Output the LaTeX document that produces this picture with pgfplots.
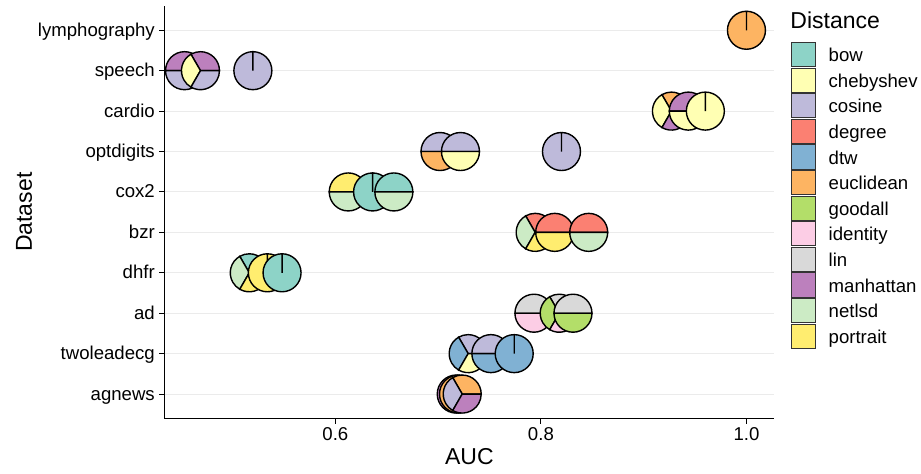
\documentclass[border=0pt]{standalone}
\usepackage{fontspec}
\setmainfont{Liberation Sans}
\usepackage{pgfplots}
\usepackage{pgfplotstable}
\pgfplotsset{compat=1.18}
\definecolor{pc0}{HTML}{8DD3C7}
\definecolor{pc1}{HTML}{FFFFB3}
\definecolor{pc2}{HTML}{BEBADA}
\definecolor{pc3}{HTML}{FB8072}
\definecolor{pc4}{HTML}{80B1D3}
\definecolor{pc5}{HTML}{FDB462}
\definecolor{pc6}{HTML}{B3DE69}
\definecolor{pc7}{HTML}{FCCDE5}
\definecolor{pc8}{HTML}{D9D9D9}
\definecolor{pc9}{HTML}{BC80BD}
\definecolor{pc10}{HTML}{CCEBC5}
\definecolor{pc11}{HTML}{FFED6F}
\newcommand\pierad{9.5pt}
\pgfdeclareplotmark{pie}{%
  \pgfpathmoveto{\pgfpointorigin}%
  \pgfpathlineto{\pgfpointpolar{\wa}{\pierad}}%
  \pgfpatharc{\wa}{\wb}{\pierad}%
  \pgfpathclose
  \pgfusepathqfillstroke
}
% x = AUC, y = dataset row, a/b = wedge angles, c = distance index
\pgfplotstableread{
x y a b c
1.0000 10 90 450 5
0.4532 9 0 180 9
0.4532 9 180 360 2
0.4687 9 0 120 9
0.4687 9 120 240 1
0.4687 9 240 360 2
0.5197 9 90 450 2
0.9270 8 0 120 5
0.9270 8 120 240 1
0.9270 8 240 360 9
0.9434 8 0 180 9
0.9434 8 180 360 1
0.9600 8 90 450 1
0.7018 7 0 180 2
0.7018 7 180 360 5
0.7217 7 0 180 2
0.7217 7 180 360 1
0.8200 7 90 450 2
0.6125 6 0 180 11
0.6125 6 180 360 10
0.6362 6 90 450 0
0.6569 6 0 180 0
0.6569 6 180 360 10
0.7944 5 0 120 3
0.7944 5 120 240 10
0.7944 5 240 360 11
0.8134 5 0 180 3
0.8134 5 180 360 11
0.8465 5 0 180 3
0.8465 5 180 360 10
0.5162 4 0 120 0
0.5162 4 120 240 10
0.5162 4 240 360 11
0.5338 4 90 450 11
0.5481 4 90 450 0
0.7932 3 0 180 8
0.7932 3 180 360 7
0.8178 3 0 120 8
0.8178 3 120 240 6
0.8178 3 240 360 7
0.8312 3 0 180 8
0.8312 3 180 360 6
0.7292 2 0 120 2
0.7292 2 120 240 4
0.7292 2 240 360 1
0.7513 2 0 180 2
0.7513 2 180 360 4
0.7740 2 90 450 4
0.7176 1 90 450 9
0.7198 1 90 450 5
0.7234 1 0 120 5
0.7234 1 120 240 2
0.7234 1 240 360 9
}\piedata
\newcommand\legbox[1]{\addlegendimage{legend image code/.code={\draw[fill=#1, draw=black!80, line width=0.5pt] (0pt,-6.07pt) rectangle (12pt,6.07pt);}}}
\begin{document}
\begin{tikzpicture}
\useasboundingbox (-82.35pt,-27.35pt) rectangle (378.15pt,209.15pt);
\begin{axis}[
  at={(0,0)}, anchor=south west,
  scale only axis, width=304.65pt, height=206.15pt,
  xmin=0.4339, xmax=1.0268, ymin=0.4, ymax=10.6,
  axis x line*=bottom, axis y line*=left,
  axis line style={black, line width=0.55pt},
  xtick={0.6,0.8,1.0}, xticklabels={0.6,0.8,1.0},
  ytick={1,2,3,4,5,6,7,8,9,10},
  yticklabels={agnews,twoleadecg,ad,dhfr,bzr,cox2,optdigits,cardio,speech,lymphography},
  tick align=outside, major tick length=2.75pt,
  tick style={black, line width=0.55pt},
  ymajorgrids, major grid style={color=black!8, line width=0.55pt},
  tick label style={font=\fontsize{9.3}{11}\selectfont, text=black},
  xticklabel style={anchor=base, inner sep=0pt, yshift=-8.25pt},
  yticklabel style={anchor=base east, inner sep=0pt, xshift=-2pt, yshift=-3pt},
  label style={font=\fontsize{11.5}{13}\selectfont},
  xlabel={AUC}, ylabel={Dataset},
  xlabel style={at={(axis description cs:0.5,-0.0919)}, anchor=center},
  ylabel style={at={(axis description cs:-0.2309,0.5)}, anchor=center},
  clip=false,
  legend cell align=left,
  legend style={at={(axis description cs:1.0279,0.91305)}, anchor=north west,
    draw=none, fill=none, inner sep=0pt, outer sep=0pt, row sep=0pt, column sep=6.35pt,
    nodes={inner sep=0pt, outer sep=0pt, text height=9.9pt, text depth=2.9pt,
      font=\fontsize{9.3}{11}\selectfont}},
]
\addplot[forget plot, scatter, only marks, mark=pie, color=black,
  mark options={solid, line width=0.7pt},
  point meta=\thisrow{y},
  visualization depends on={\thisrow{a} \as \wa},
  visualization depends on={\thisrow{b} \as \wb},
  visualization depends on={\thisrow{c} \as \wc},
  scatter/@pre marker code/.code={\pgfmathtruncatemacro\wci{\wc}\pgfscope\pgfsetfillcolor{pc\wci}\pgfsetstrokecolor{black}},
  scatter/@post marker code/.code={\endpgfscope},
] table[x=x, y=y] {\piedata};
\draw[black, line width=0.55pt] (rel axis cs:0,1) -- (rel axis cs:0,0) -- (rel axis cs:1,0);
\legbox{pc0}\addlegendentry{bow}
\legbox{pc1}\addlegendentry{chebyshev}
\legbox{pc2}\addlegendentry{cosine}
\legbox{pc3}\addlegendentry{degree}
\legbox{pc4}\addlegendentry{dtw}
\legbox{pc5}\addlegendentry{euclidean}
\legbox{pc6}\addlegendentry{goodall}
\legbox{pc7}\addlegendentry{identity}
\legbox{pc8}\addlegendentry{lin}
\legbox{pc9}\addlegendentry{manhattan}
\legbox{pc10}\addlegendentry{netlsd}
\legbox{pc11}\addlegendentry{portrait}
\node[anchor=base west, inner sep=0pt, font=\fontsize{11.5}{13}\selectfont] at (axis description cs:1.02626,0.94591) {Distance};
\end{axis}
\end{tikzpicture}
\end{document}
